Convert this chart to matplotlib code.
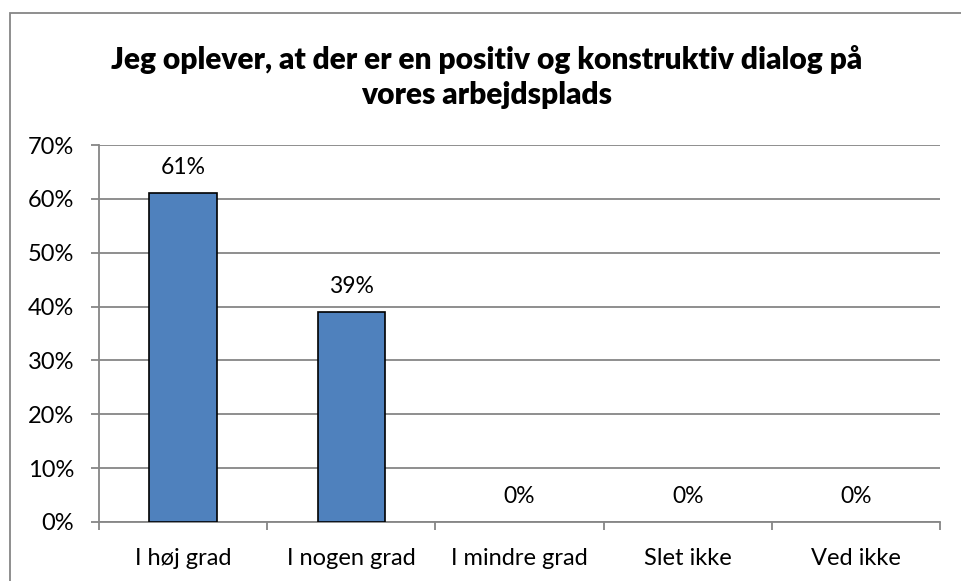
import matplotlib
matplotlib.use("Agg")
import matplotlib.pyplot as plt
from matplotlib.patches import Rectangle
from matplotlib.ticker import PercentFormatter

categories = ["I høj grad", "I nogen grad", "I mindre grad", "Slet ikke", "Ved ikke"]
values = [61, 39, 0, 0, 0]
yticks = [0, 10, 20, 30, 40, 50, 60, 70]
title = "Jeg oplever, at der er en positiv og konstruktiv dialog på\nvores arbejdsplads"

W, H = 961, 581
fig = plt.figure(figsize=(W / 100, H / 100), dpi=100)
plt.rcParams['font.family'] = ['Lato', 'DejaVu Sans']

# outer chart border (extends beyond right/bottom edges)
fig.patches.append(Rectangle((10 / W, -0.05), 1.1, 1.05 - 13 / H, transform=fig.transFigure,
                             fill=False, edgecolor="#868686", linewidth=1.3))

ax = fig.add_axes([99 / W, 1 - 522 / H, (940 - 99) / W, (522 - 145) / H])
x = list(range(len(categories)))
ax.bar(x, values, width=0.4, color="#4F81BD", edgecolor="black",
       linewidth=[1.2 if v > 0 else 0 for v in values], zorder=3)
for xi, v in zip(x, values):
    ax.annotate(f"{v}%", (xi, v), xytext=(0, 11), textcoords="offset points",
                ha="center", va="bottom", fontsize=16.5, color="black")

ax.set_xlim(-0.5, len(categories) - 0.5)
ax.set_ylim(0, 70)
ax.set_yticks(yticks)
ax.yaxis.set_major_formatter(PercentFormatter(decimals=0))
ax.set_xticks([i - 0.5 for i in range(len(categories) + 1)], minor=False)
ax.set_xticklabels([""] * (len(categories) + 1))
ax.set_xticks(x, minor=True)
ax.set_xticklabels(categories, minor=True)
ax.tick_params(axis="x", which="minor", length=0, pad=19, labelsize=17)
ax.tick_params(axis="x", which="major", length=5.5, width=1.3, color="#868686")
ax.tick_params(axis="y", length=6, width=1.3, color="#868686", labelsize=17, pad=12)
ax.grid(axis="y", color="#868686", linewidth=1.3, zorder=0)
for s in ["top", "right"]:
    ax.spines[s].set_visible(False)
for s in ["left", "bottom"]:
    ax.spines[s].set_color("#868686")
    ax.spines[s].set_linewidth(1.3)

fig.text(487 / W, 1 - 77 / H, title, ha="center", va="center", fontsize=21.5,
         fontweight="heavy", linespacing=1.27)

fig.savefig("out.png", dpi=100)
